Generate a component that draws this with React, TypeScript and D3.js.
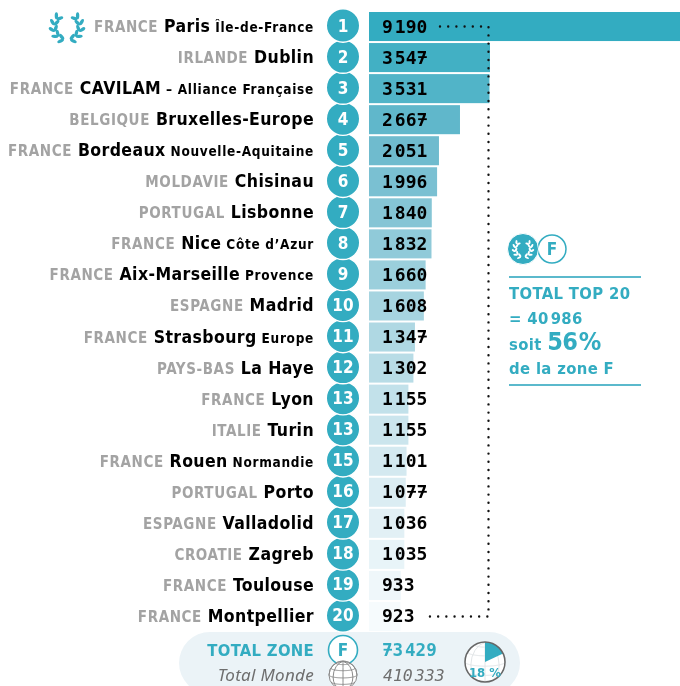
import React from "react";
import * as d3 from "d3";

const ranks = ["1","2","3","4","5","6","7","8","9","10","11","12","13","13","15","16","17","18","19","20"];
const countries = ["FRANCE","IRLANDE","FRANCE","BELGIQUE","FRANCE","MOLDAVIE","PORTUGAL","FRANCE","FRANCE","ESPAGNE","FRANCE","PAYS-BAS","FRANCE","ITALIE","FRANCE","PORTUGAL","ESPAGNE","CROATIE","FRANCE","FRANCE"];
const cities = ["Paris","Dublin","CAVILAM","Bruxelles-Europe","Bordeaux","Chisinau","Lisbonne","Nice","Aix-Marseille","Madrid","Strasbourg","La Haye","Lyon","Turin","Rouen","Porto","Valladolid","Zagreb","Toulouse","Montpellier"];
const suffixes = ["Île-de-France","","– Alliance Française","","Nouvelle-Aquitaine","","","Côte d’Azur","Provence","","Europe","","","","Normandie","","","","",""];
const values = [9190,3547,3531,2667,2051,1996,1840,1832,1660,1608,1347,1302,1155,1155,1101,1077,1036,1035,933,923];
const totalZone = 73429;
const totalMonde = 410333;
const sharePct = 18;
const TEAL = "#33acc1";
const MONO = "'DejaVu Sans Mono', monospace";
const COND = "'DejaVu Sans Condensed','DejaVu Sans', sans-serif";
const NOTO = "'Noto Sans', sans-serif";

function Num({ v, x, y, size, fill, font = MONO, bold = true, italic = false, gap = 2, bars = true }: any) {
  const s = String(v);
  const head = s.length > 3 ? s.slice(0, -3) : "";
  const tail = s.slice(-3);
  const adv = size * 0.602;
  const pos = (i: number) => x + i * adv + (head && i >= head.length ? gap : 0);
  return (
    <g>
      <text x={x} y={y} fontFamily={font} fontWeight={bold ? 700 : 400} fontStyle={italic ? "italic" : "normal"} fontSize={size} fill={fill}>
        {head && <tspan>{head}</tspan>}
        <tspan dx={head ? gap : 0}>{tail}</tspan>
      </text>
      {bars && s.split("").map((c, i) => c === "7" ? (
        <line key={i} x1={pos(i) + adv * 0.15} x2={pos(i) + adv * 0.95} y1={y - size * 0.36} y2={y - size * 0.36} stroke={fill} strokeWidth={1.8} />
      ) : null)}
    </g>
  );
}

function Laurel({ cx, cy, r, color }: { cx: number; cy: number; r: number; color: string }) {
  const thetas = [14, 42, 70, 98, 126];
  const leaves: React.ReactNode[] = [];
  [-1, 1].forEach((side) => {
    thetas.forEach((deg, i) => {
      const t = (deg * Math.PI) / 180;
      const px = cx + side * r * Math.sin(t);
      const py = cy + r * Math.cos(t);
      const base = Math.atan2(-Math.sin(t), side * Math.cos(t));
      [-1, 1].forEach((k) => {
        const a = base + k * 0.65;
        const L = r * 0.27;
        leaves.push(
          <ellipse key={`${side}-${i}-${k}`} rx={L} ry={r * 0.13} fill={color}
            transform={`translate(${px + Math.cos(a) * L},${py + Math.sin(a) * L}) rotate(${(a * 180) / Math.PI})`} />
        );
      });
    });
  });
  return <g>{leaves}</g>;
}

function Globe({ cx, cy, r, stroke, outline = true }: { cx: number; cy: number; r: number; stroke: string; outline?: boolean }) {
  const proj = d3.geoOrthographic().scale(r).translate([cx, cy]).rotate([0, -12]).clipAngle(90);
  const path = d3.geoPath(proj);
  const grat = d3.geoGraticule().step([45, 30])();
  return (
    <g>
      <path d={path(grat) || ""} fill="none" stroke={stroke} strokeWidth={1} />
      {outline && <circle cx={cx} cy={cy} r={r} fill="none" stroke={stroke} strokeWidth={1} />}
    </g>
  );
}

export default function App() {
  const x = d3.scaleLinear().domain([0, 3547]).range([369, 490]);
  const y = d3.scaleBand<number>().domain(d3.range(values.length)).range([12, 12 + 30.95 * 20]).paddingInner(2 / 31).paddingOuter(0);
  const color = d3.scaleLinear<string>().domain([0, 4, 9, 14, 19]).range(["#33acc1", "#6fbbce", "#a6d4e0", "#d4e9f0", "#f6fbfd"]);
  const cy = (i: number) => (y(i) as number) + y.bandwidth() / 2;
  const xDot = x(values[1]) - 1.5;
  const pie = d3.arc()({ innerRadius: 0, outerRadius: 20, startAngle: 0, endAngle: (sharePct / 100) * 2 * Math.PI }) as string;
  const order = d3.range(values.length).reverse();
  return (
    <svg width={680} height={686} style={{ position: "fixed", left: 0, top: 0, display: "block" }}>
      <rect x={179} y={632} width={341} height={62} rx={31} fill="#ebf3f7" />
      {values.map((v, i) => (
        <rect key={i} x={x(0)} y={y(i)} width={x(v) - x(0)} height={y.bandwidth()} fill={color(i)} />
      ))}
      {values.map((_, i) => (
        <text key={i} x={314} y={cy(i) + 5.5} textAnchor="end" fontFamily={COND} fontWeight={700} fill="#000" fontSize={17.5} letterSpacing={0.4}>
          <tspan fill="#a3a3a3" fontSize={15} letterSpacing={0.6}>{countries[i]}</tspan>
          <tspan> {cities[i]}</tspan>
          {suffixes[i] && <tspan fontSize={13.5} letterSpacing={0.7}>{"\u00a0"}{suffixes[i]}</tspan>}
        </text>
      ))}
      {order.map((i) => (
        <g key={i}>
          <circle cx={343} cy={cy(i) - 1} r={16.7} fill={TEAL} stroke="#fff" strokeWidth={1.4} />
          <text x={343} y={cy(i) + 5} textAnchor="middle" fontFamily={COND} fontWeight={700} fontSize={17} fill="#fff">{ranks[i]}</text>
        </g>
      ))}
      {values.map((v, i) => (
        <Num key={i} v={v} x={382} y={cy(i) + 6} size={18} fill="#000" />
      ))}
      <path d={`M440,${cy(0)}H${xDot}V${cy(19)}H425`} fill="none" stroke="#111" strokeWidth={2.4} strokeLinecap="round" strokeDasharray="0 8.2" />
      <Laurel cx={67} cy={27} r={13} color={TEAL} />

      <line x1={509} x2={641} y1={277} y2={277} stroke="#5bb9cc" strokeWidth={2} />
      <line x1={509} x2={641} y1={385} y2={385} stroke="#5bb9cc" strokeWidth={2} />
      <circle cx={552} cy={249} r={14} fill="#fff" stroke={TEAL} strokeWidth={1.5} />
      <text x={552} y={255} textAnchor="middle" fontFamily={COND} fontWeight={700} fontSize={17} fill={TEAL}>F</text>
      <circle cx={523} cy={249} r={15.5} fill={TEAL} stroke="#fff" strokeWidth={1} />
      <Laurel cx={523} cy={249} r={8} color="#fff" />
      <g fontFamily={COND} fontWeight={700} fill={TEAL} fontSize={16.5} letterSpacing={0.35}>
        <text x={509} y={299}>TOTAL TOP 20</text>
        <text x={509} y={324}>= 40<tspan dx={2}>986</tspan></text>
        <text x={509} y={350}>soit <tspan fontSize={25} letterSpacing={-0.6}>56<tspan dx={1.5}>%</tspan></tspan></text>
        <text x={509} y={374}>de la zone F</text>
      </g>

      <text x={314} y={656} textAnchor="end" fontFamily={COND} fontWeight={700} fontSize={16.5} letterSpacing={0.3} fill={TEAL}>TOTAL ZONE</text>
      <circle cx={343} cy={650} r={14.5} fill="#fff" stroke={TEAL} strokeWidth={1.6} />
      <text x={343} y={656} textAnchor="middle" fontFamily={COND} fontWeight={700} fontSize={17} fill={TEAL}>F</text>
      <Num v={totalZone} x={382} y={656} size={17.5} fill={TEAL} />
      <text x={314} y={681} textAnchor="end" fontFamily={NOTO} fontStyle="italic" fontSize={17} letterSpacing={0.3} fill="#6e6e6e">Total Monde</text>
      <circle cx={343} cy={675} r={14} fill="#fff" />
      <Globe cx={343} cy={675} r={14} stroke="#8a8a8a" />
      <Num v={totalMonde} x={383} y={681} size={16.5} fill="#6e6e6e" bold={false} italic bars={false} />
      <circle cx={485} cy={662} r={20} fill="#fff" />
      <Globe cx={485} cy={662} r={20} stroke="#e2e6e8" outline={false} />
      <path d={pie} fill={TEAL} transform="translate(485,662)" />
      <circle cx={485} cy={662} r={20} fill="none" stroke="#666" strokeWidth={1.5} />
      <text x={485} y={677} textAnchor="middle" fontFamily={COND} fontWeight={700} fontSize={13} fill={TEAL}>{sharePct} %</text>
    </svg>
  );
}
